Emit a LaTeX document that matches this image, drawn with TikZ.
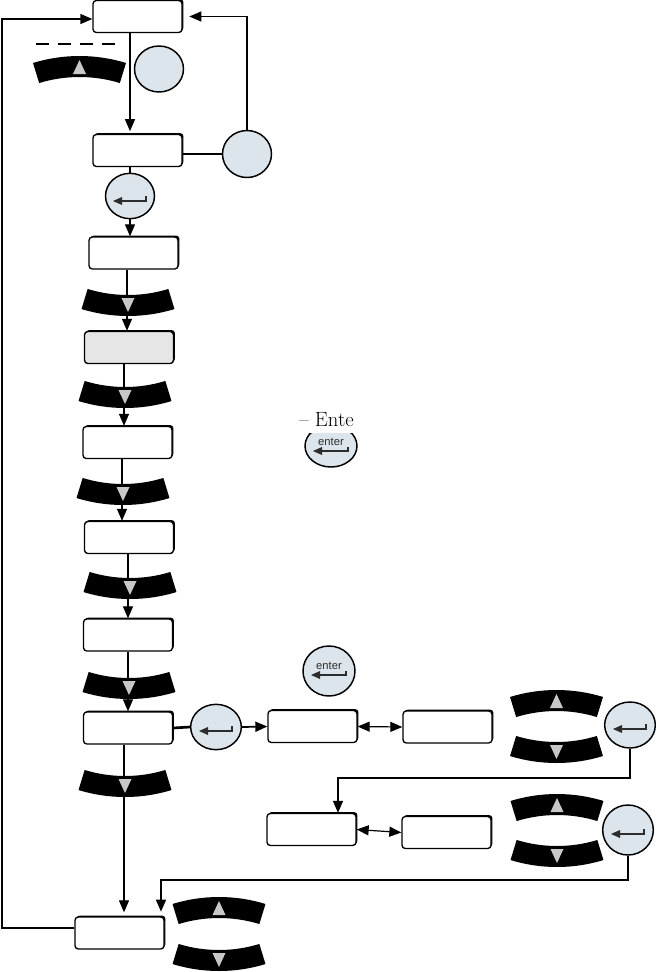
\documentclass[tikz,border=0pt]{standalone}
\usepackage{fontspec}
\newfontfamily\sansf{Liberation Sans}
\usetikzlibrary{arrows.meta,shapes.geometric,shadows}
\definecolor{cfill}{RGB}{220,229,235}
\definecolor{trig}{RGB}{200,200,200}
\definecolor{symc}{RGB}{45,45,45}
\definecolor{boxg}{RGB}{230,230,230}
\begin{document}
\begin{tikzpicture}[x=0.75pt,y=-0.75pt,
  box/.style={draw, line width=1pt, rounded corners=2.5pt, fill=white,
    minimum width=66.75pt, minimum height=24pt, inner sep=0pt,
    drop shadow={shadow xshift=1.1pt, shadow yshift=1.1pt, opacity=1, fill=black}},
  btn/.style={ellipse, draw, line width=1.1pt, fill=cfill, inner sep=0pt},
  ln/.style={line width=0.9pt},
  arr/.style={ln, -{Triangle[length=9pt,width=7.5pt]}},
  darr/.style={ln, {Triangle[length=9pt,width=7.5pt]}-{Triangle[length=9pt,width=7.5pt]}},
  upbow/.pic={
    \fill[black] (0,148) ++(-107:159) arc[start angle=-107,end angle=-73,radius=159]
      -- ++(-73:-21) arc[start angle=-73,end angle=-107,radius=138] -- cycle;
    \fill[trig] (0,-7) -- (6.5,7) -- (-6.5,7) -- cycle;},
  dnbow/.pic={
    \fill[black] (0,-148) ++(73:159) arc[start angle=73,end angle=107,radius=159]
      -- ++(107:-21) arc[start angle=107,end angle=73,radius=138] -- cycle;
    \fill[trig] (0,7) -- (6.5,-7) -- (-6.5,-7) -- cycle;},
  retsym/.pic={
    \draw[line width=1pt,symc] (16,-5) -- (16,0) -- (-9,0);
    \fill[symc] (-17,0) -- (-8,-4) -- (-8,4) -- cycle;},
  entsym/.pic={
    \node[inner sep=0pt, font=\sansf\fontsize{8.4pt}{9pt}\selectfont, text=symc] (et) at (0,-6) {enter};
    \draw[line width=1pt,symc] (17,-1) -- (17,3) -- (-10,3);
    \fill[symc] (-18,3) -- (-9,-1) -- (-9,7) -- cycle;}
]
\fill[white] (0,0) rectangle (656,972);
\useasboundingbox (0,0) rectangle (656,972);

% boxes
\node[box] (b1) at (137.5,16.5) {};
\node[box] (b2) at (137.5,150.5) {};
\node[box] (b3) at (133.5,253) {};
\node[box, fill=boxg] (b4) at (129,347.5) {};
\node[box] (b5) at (127.5,442.5) {};
\node[box] (b6) at (129,537.5) {};
\node[box] (b7) at (128,635) {};
\node[box] (b8) at (128,728) {};
\node[box] (b9) at (312.5,726.5) {};
\node[box] (b10) at (447.5,727) {};
\node[box] (b11) at (119.5,933) {};
\node[box] (b12) at (311.5,829.5) {};
\node[box] (b13) at (446.5,832.5) {};

% buttons
\node[btn, minimum width=36.75pt, minimum height=34.5pt] (c1) at (159,69) {};
\node[btn, minimum width=36.75pt, minimum height=35.25pt] (c2) at (247,154) {};
\node[btn, minimum width=36.75pt, minimum height=34pt] (c3) at (130,196) {};
\node[btn, minimum width=38pt, minimum height=34pt] (c4) at (216,727) {};
\node[btn, minimum width=38pt, minimum height=34.5pt] (c5) at (630,725) {};
\node[btn, minimum width=38pt, minimum height=37.5pt] (c6) at (628,830) {};
\node[btn, minimum width=39pt, minimum height=37.5pt] (c7) at (329,671) {};
\node[btn, minimum width=39pt, minimum height=31.5pt] (c8) at (331,446) {};

\pic at (130,201) {retsym};
\pic at (216,731) {retsym};
\pic at (630,729) {retsym};
\pic at (628,834) {retsym};
\pic at (329,672) {entsym};
\pic at (331,448) {entsym};

\node[fill=white, inner sep=0pt, text depth=5.5pt, anchor=base west,
  font=\fontsize{15.5pt}{18pt}\selectfont] (t1) at (299,426) {– Ente};

% dashed mark
\coordinate (d1) at (36,44);
\coordinate (d2) at (115,44);
\draw[line width=1.2pt, dash pattern=on 10pt off 6.4pt] (d1) -- (d2);

% connectors
\draw[arr, shorten >=2pt] (b1.south -| 130,0) -- (b2.north -| 130,0);
\draw[line width=1.6pt] (b2.east |- 0,154) -- (c2.west);
\draw[arr, line width=1pt, shorten >=5pt] (c2.north) |- (b1.east);
\draw[ln] (b2.south -| 130,0) -- (c3.north);
\draw[arr] (c3.south) -- (b3.north -| 130,0);
\draw[arr] (b3.south -| 127,0) -- (b4.north -| 127,0);
\draw[arr] (b4.south -| 124,0) -- (b5.north -| 124,0);
\draw[arr] (b5.south -| 122,0) -- (b6.north -| 122,0);
\draw[arr] (b6.south -| 128,0) -- (b7.north -| 128,0);
\draw[arr] (b7.south -| 128,0) -- (b8.north -| 128,0);
\draw[arr, shorten >=3pt] (b8.south -| 124,0) -- (b11.north -| 124,0);
\draw[line width=2pt] (b8.east) -- (c4.west);
\draw[arr, line width=1.3pt] (c4.east) -- (b9.west);
\draw[darr] (b9.east) -- (b10.west);
\draw[arr, line width=1pt] (c5.south) -- (c5.south |- 0,778) -| (b12.north -| 338,0);
\draw[darr] (b12.east) -- (b13.west);
\draw[arr, line width=1pt, shorten >=3.5pt] (c6.south) -- (c6.south |- 0,880) -| (b11.north -| 161,0);
\draw[arr, line width=1pt] (b11.west |- 0,928) -- (2,928) |- (b1.west |- 0,19);

% bows
\pic at (79.5,67) {upbow};
\pic at (128,305) {dnbow};
\pic at (125,397) {dnbow};
\pic at (123,494) {dnbow};
\pic at (130,588) {dnbow};
\pic at (129,688) {dnbow};
\pic at (125,786) {dnbow};
\pic at (556.5,701) {upbow};
\pic at (556.5,752) {dnbow};
\pic at (557,805) {upbow};
\pic at (557,856) {dnbow};
\pic at (219,908) {upbow};
\pic at (219,960) {dnbow};
\end{tikzpicture}
\end{document}
